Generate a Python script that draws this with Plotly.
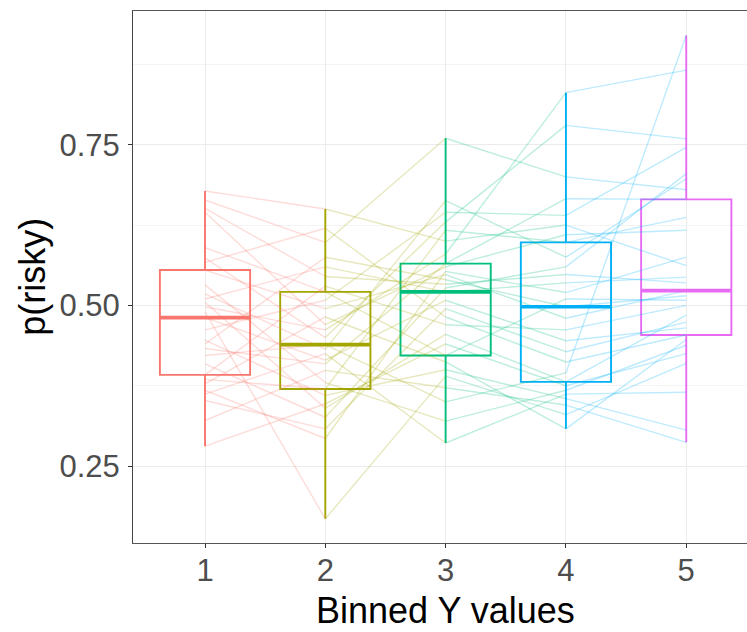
import numpy as np
import plotly.graph_objects as go

# Bins on the x axis and their labels
bins = [1, 2, 3, 4, 5]
bin_labels = ["1", "2", "3", "4", "5"]

# p(risky) per subject (same subject order in every bin)
bin1 = [0.281, 0.321, 0.352, 0.362, 0.368, 0.378, 0.385, 0.392, 0.409, 0.422,
        0.433, 0.440, 0.446, 0.462, 0.481, 0.490, 0.498, 0.505, 0.510, 0.518,
        0.532, 0.555, 0.567, 0.574, 0.590, 0.645, 0.651, 0.664, 0.678]
bin2 = [0.347, 0.399, 0.308, 0.425, 0.293, 0.482, 0.370, 0.530, 0.326, 0.439,
        0.409, 0.575, 0.360, 0.508, 0.415, 0.168, 0.462, 0.340, 0.560, 0.432,
        0.380, 0.495, 0.620, 0.450, 0.521, 0.470, 0.545, 0.598, 0.650]
bin3 = [0.440, 0.372, 0.495, 0.286, 0.553, 0.412, 0.617, 0.470, 0.527, 0.350,
        0.565, 0.540, 0.400, 0.645, 0.508, 0.390, 0.580, 0.455, 0.521, 0.663,
        0.320, 0.548, 0.482, 0.630, 0.422, 0.560, 0.533, 0.760, 0.600]
bin4 = [0.375, 0.345, 0.428, 0.362, 0.520, 0.308, 0.598, 0.462, 0.560, 0.395,
        0.666, 0.498, 0.355, 0.640, 0.445, 0.330, 0.831, 0.381, 0.535, 0.575,
        0.368, 0.480, 0.412, 0.780, 0.510, 0.610, 0.548, 0.700, 0.625]
bin5 = [0.425, 0.287, 0.474, 0.365, 0.575, 0.447, 0.637, 0.500, 0.705, 0.920,
        0.665, 0.515, 0.306, 0.746, 0.465, 0.410, 0.866, 0.485, 0.544, 0.697,
        0.438, 0.523, 0.454, 0.759, 0.508, 0.617, 0.535, 0.680, 0.562]

y_ticks = [0.25, 0.50, 0.75]
y_tick_labels = ["0.25", "0.50", "0.75"]
y_minor = [0.375, 0.625, 0.875]

colors = ["#F8766D", "#A3A500", "#00BF7D", "#00B0F6", "#E76BF3"]
series = [bin1, bin2, bin3, bin4, bin5]


def rgba(hex_color, alpha):
    h = hex_color.lstrip("#")
    r, g, b = (int(h[i:i + 2], 16) for i in (0, 2, 4))
    return f"rgba({r},{g},{b},{alpha})"


fig = go.Figure()

BOX_W = 0.75

# Boxplots: quartiles (type-7), whiskers to the most extreme point within 1.5*IQR
stats = []
for k, vals in enumerate(series):
    v = np.asarray(vals)
    q1, med, q3 = np.percentile(v, [25, 50, 75])
    iqr = q3 - q1
    lo = v[v >= q1 - 1.5 * iqr].min()
    hi = v[v <= q3 + 1.5 * iqr].max()
    stats.append(med)
    fig.add_trace(go.Box(
        x=[bins[k]], q1=[q1], median=[med], q3=[q3],
        lowerfence=[lo], upperfence=[hi],
        width=BOX_W, whiskerwidth=0, boxpoints=False,
        line=dict(color=colors[k], width=1.9),
        fillcolor="rgba(255,255,255,0)",
        hoverinfo="skip", showlegend=False,
    ))

# Subject trajectories: each segment takes the colour of the bin it starts from
for k in range(len(bins) - 1):
    xs, ys = [], []
    for a, b in zip(series[k], series[k + 1]):
        xs += [bins[k], bins[k + 1], None]
        ys += [a, b, None]
    fig.add_trace(go.Scatter(
        x=xs, y=ys, mode="lines",
        line=dict(color=rgba(colors[k], 0.26), width=1.4),
        hoverinfo="skip", showlegend=False,
    ))

# Thicker median bars
for k, med in enumerate(stats):
    fig.add_trace(go.Scatter(
        x=[bins[k] - BOX_W / 2, bins[k] + BOX_W / 2], y=[med, med],
        mode="lines", line=dict(color=colors[k], width=3.6),
        hoverinfo="skip", showlegend=False,
    ))

FONT = "Liberation Sans, Arial, Helvetica, sans-serif"

fig.update_layout(
    width=747, height=632,
    margin=dict(l=133, r=0, t=11, b=89),
    paper_bgcolor="white", plot_bgcolor="white",
    font=dict(family=FONT),
    xaxis=dict(
        range=[0.4015, 5.505],
        tickmode="array", tickvals=bins, ticktext=bin_labels,
        showgrid=True, gridcolor="#EBEBEB", gridwidth=1.1,
        zeroline=False,
        showline=True, linecolor="#555555", linewidth=1, mirror=True,
        ticks="outside", ticklen=4, tickcolor="#333333", tickwidth=1,
        ticklabelstandoff=-4,
        tickfont=dict(size=31, color="#4D4D4D", family=FONT),
    ),
    yaxis=dict(
        range=[0.1304, 0.958],
        tickmode="array", tickvals=y_ticks, ticktext=y_tick_labels,
        showgrid=True, gridcolor="#EBEBEB", gridwidth=1.1,
        minor=dict(tickmode="array", tickvals=y_minor, showgrid=True,
                   gridcolor="#F4F4F4", gridwidth=0.6, ticks=""),
        zeroline=False,
        showline=True, linecolor="#444444", linewidth=1,
        ticks="outside", ticklen=4, tickcolor="#333333", tickwidth=1,
        ticklabelstandoff=2,
        tickfont=dict(size=31, color="#4D4D4D", family=FONT),
    ),
    annotations=[
        dict(text="Binned Y values", xref="x", x=3, yref="paper", y=0,
             yshift=-67, xanchor="center", yanchor="middle", showarrow=False,
             font=dict(size=36, color="black", family=FONT)),
        dict(text="p(risky)", xref="paper", x=-0.165, yref="paper", y=0.5,
             textangle=-90, xanchor="center", yanchor="middle", showarrow=False,
             font=dict(size=36, color="black", family=FONT)),
    ],
)

fig.write_html("out.html")
